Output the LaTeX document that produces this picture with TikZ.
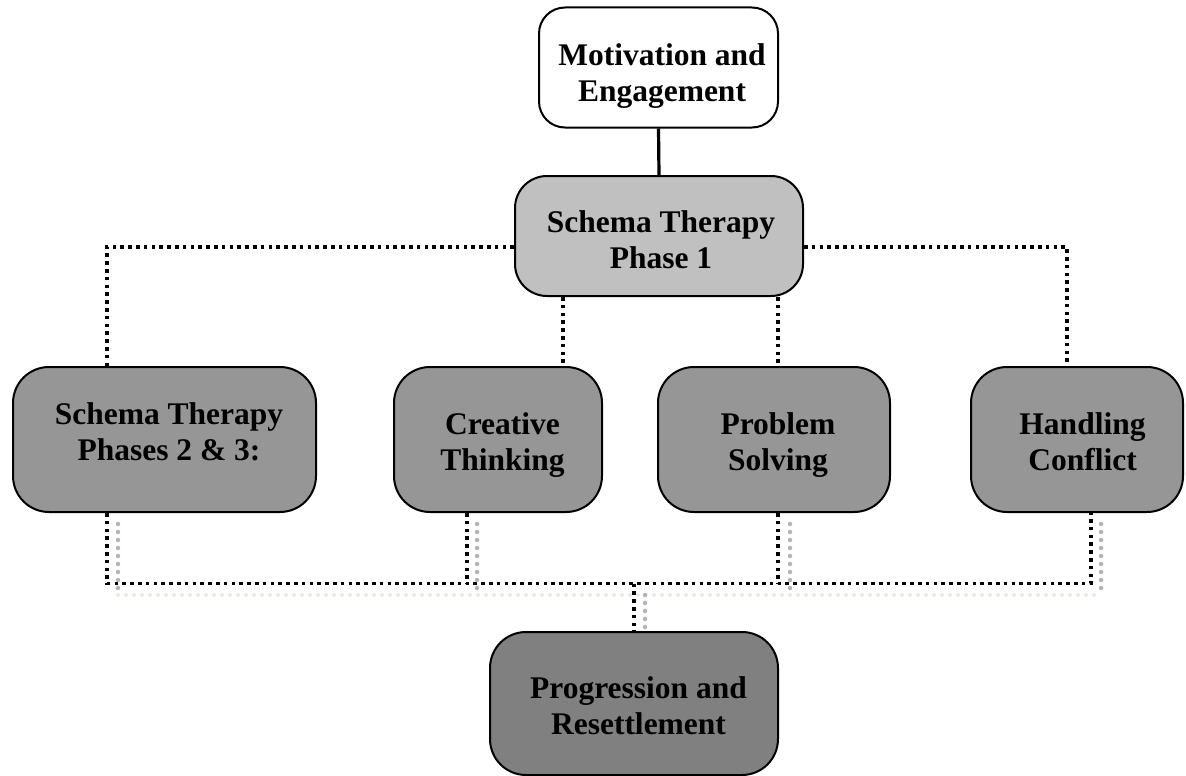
\documentclass[tikz,border=0pt]{standalone}
\usepackage{fontspec}
\setmainfont{Liberation Serif}
\definecolor{fillA}{HTML}{C0C0C0}
\definecolor{fillB}{HTML}{969696}
\definecolor{fillC}{HTML}{808080}
\definecolor{dotgrayc}{HTML}{B4B4B4}
\definecolor{dotlightc}{HTML}{ECECE4}
\newcommand\boxtext[3]{\smash{\raisebox{#2}{\begin{tabular}{@{\hspace{#1}}c@{}}#3\end{tabular}}}}
\begin{document}
\begin{tikzpicture}[x=1pt,y=-1pt,
  box/.style={draw=black, line width=2pt, rounded corners=32pt, inner sep=0pt,
    font=\bfseries\fontsize{31.5}{36}\selectfont},
  dotblk/.style={black, line width=3.6pt, dash pattern=on 3.6pt off 4.2pt},
  dotgray/.style={dotgrayc, line width=4.5pt, line cap=round, dash pattern=on 0pt off 8pt},
  dotlight/.style={dotlightc, line width=4pt, line cap=round, dash pattern=on 0pt off 8pt},
  solidline/.style={black, line width=3.2pt}
]
\useasboundingbox (0,0) rectangle (1186,776);

% nodes
\node[box, fill=white, rounded corners=26pt, minimum width=239pt, minimum height=120pt] (mot) at (658.5,67.5)
  {\boxtext{7pt}{-15pt}{Motivation and\\Engagement}};
\node[box, fill=fillA, minimum width=288pt, minimum height=120pt] (p1) at (659,236)
  {\boxtext{4pt}{-13.5pt}{Schema Therapy\\Phase 1}};
\node[box, fill=fillB, rounded corners=36pt, minimum width=303pt, minimum height=145pt] (s23) at (164.5,439.5)
  {\boxtext{9pt}{-2pt}{Schema Therapy\\Phases 2 \& 3:}};
\node[box, fill=fillB, rounded corners=36pt, minimum width=208pt, minimum height=145pt] (ct) at (498,439.5)
  {\boxtext{9pt}{-12pt}{Creative\\Thinking}};
\node[box, fill=fillB, rounded corners=36pt, minimum width=232pt, minimum height=145pt] (ps) at (774,439.5)
  {\boxtext{8pt}{-12pt}{Problem\\Solving}};
\node[box, fill=fillB, rounded corners=36pt, minimum width=212pt, minimum height=145pt] (hc) at (1077,439.5)
  {\boxtext{11pt}{-12pt}{Handling\\Conflict}};
\node[box, fill=fillC, rounded corners=36pt, minimum width=288pt, minimum height=143pt] (pr) at (634,703.5)
  {\boxtext{9pt}{-12.5pt}{Progression and\\Resettlement}};

% top connectors
\draw[solidline] (mot.south) -- (p1.north);
\draw[dotblk] (p1.west |- 0,247) -| (s23.north -| 107,0);
\draw[dotblk] (p1.east |- 0,247) -| (hc.north -| 1067,0);
\draw[dotblk] (p1.south -| 563,0) -- (ct.north -| 563,0);
\draw[dotblk] (p1.south -| 778,0) -- (ps.north -| 778,0);

% bottom connectors (black)
\coordinate (bus) at (634,583.5);
\draw[dotblk] (s23.south -| 107,0) |- (bus) -| (hc.south -| 1091,0);
\draw[dotblk] (ct.south -| 467,0) -- (bus -| 467,0);
\draw[dotblk] (ps.south -| 778,0) -- (bus -| 778,0);
\draw[dotblk] (bus) -- (pr.north -| bus);

% bottom connectors (gray)
\coordinate (gbus) at (645,595);
\draw[dotlight] (gbus -| 118,0) -- (gbus -| 1101,0);
\draw[dotgray] ([yshift=-11pt]s23.south -| 118,0) -- (gbus -| 118,0);
\draw[dotgray] ([yshift=-11pt]ct.south -| 477,0) -- (gbus -| 477,0);
\draw[dotgray] ([yshift=-11pt]ps.south -| 790,0) -- (gbus -| 790,0);
\draw[dotgray] ([yshift=-11pt]hc.south -| 1101,0) -- (gbus -| 1101,0);
\draw[dotgray] (gbus) -- ([yshift=2pt]pr.north -| gbus);
\end{tikzpicture}
\end{document}
